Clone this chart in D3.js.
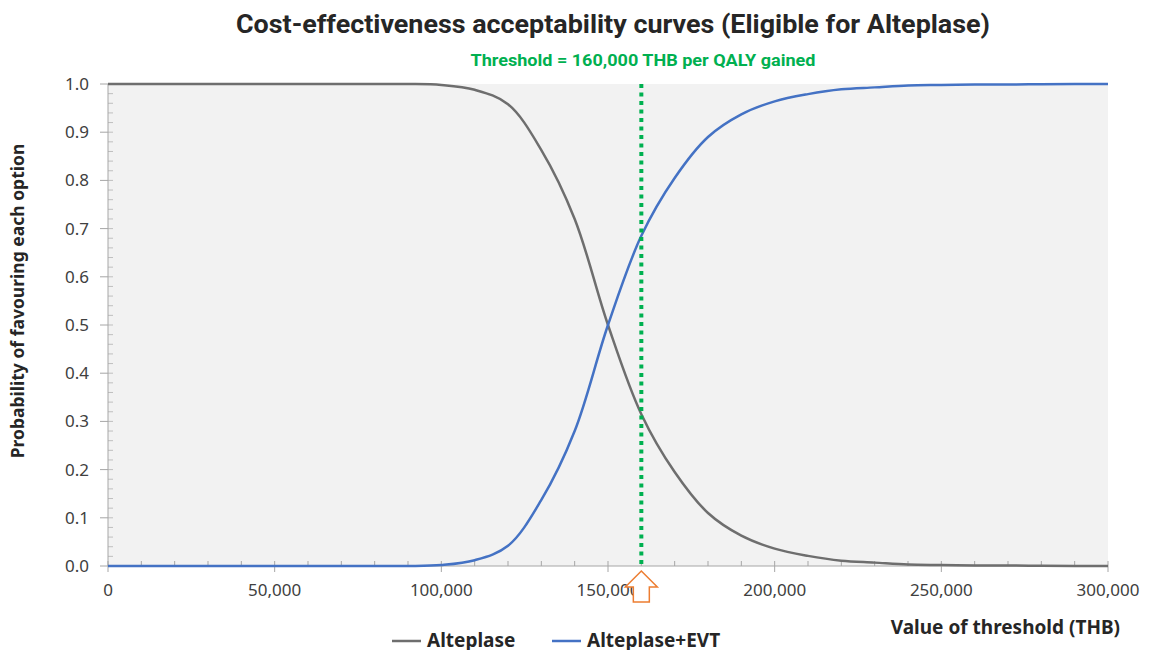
<!DOCTYPE html>
<html>
<head>
<meta charset="utf-8">
<script src="https://cdn.jsdelivr.net/npm/d3@7"></script>
<style>
  body { margin: 0; background: #fff; }
  svg text { font-family: "Noto Sans", "Open Sans", sans-serif; fill: #262626; }
  .title { font-family: "Roboto", sans-serif; font-weight: bold; }
  .tick-label { font-size: 17px; fill: #404040; }
  .axis-title { font-weight: bold; }
</style>
</head>
<body>
<svg width="1149" height="650"></svg>
<script>
// CEAC data (threshold in THB)
var thresholds = [0, 10000, 20000, 30000, 40000, 50000, 60000, 70000, 80000, 90000, 100000,
  110000, 120000, 130000, 140000, 150000, 160000, 170000, 180000, 190000, 200000,
  210000, 220000, 230000, 240000, 250000, 260000, 270000, 280000, 290000, 300000];
var alteplase = [1, 1, 1, 1, 1, 1, 1, 1, 1, 1, 0.998,
  0.988, 0.958, 0.863, 0.72, 0.5, 0.315, 0.195, 0.11, 0.063, 0.036,
  0.021, 0.011, 0.007, 0.003, 0.002, 0.001, 0.001, 0.0005, 0, 0];
var alteplaseEvt = [0, 0, 0, 0, 0, 0, 0, 0, 0, 0, 0.002,
  0.012, 0.042, 0.137, 0.28, 0.5, 0.685, 0.805, 0.89, 0.937, 0.964,
  0.979, 0.989, 0.993, 0.997, 0.998, 0.999, 0.999, 0.9995, 1, 1];
var seriesNames = ['Alteplase', 'Alteplase+EVT'];
var seriesColors = ['#6e6e6e', '#4472c4'];
var xTicks = [0, 50000, 100000, 150000, 200000, 250000, 300000];
var yTicks = [0, 0.1, 0.2, 0.3, 0.4, 0.5, 0.6, 0.7, 0.8, 0.9, 1.0];
var wtpThreshold = 160000;

var svg = d3.select('svg');
var plot = {l: 108, r: 1108, t: 84, b: 566};

var x = d3.scaleLinear().domain([0, 300000]).range([plot.l, plot.r]);
var y = d3.scaleLinear().domain([0, 1]).range([plot.b, plot.t]);

// plot area
svg.append('rect')
  .attr('x', plot.l).attr('y', plot.t)
  .attr('width', plot.r - plot.l).attr('height', plot.b - plot.t)
  .attr('fill', '#f2f2f2');

// y axis: major ticks outward, minor ticks inward
svg.append('g').selectAll('line')
  .data(d3.range(0, 1.0001, 0.02))
  .enter().append('line')
  .attr('x1', plot.l).attr('x2', plot.l + 5)
  .attr('y1', function(d) { return y(d); })
  .attr('y2', function(d) { return y(d); })
  .attr('stroke', '#bfbfbf');
svg.append('g').selectAll('line')
  .data(yTicks)
  .enter().append('line')
  .attr('x1', plot.l - 8).attr('x2', plot.l)
  .attr('y1', function(d) { return y(d); })
  .attr('y2', function(d) { return y(d); })
  .attr('stroke', '#a6a6a6');
svg.append('g').selectAll('text')
  .data(yTicks)
  .enter().append('text')
  .attr('class', 'tick-label')
  .attr('x', 89)
  .attr('y', function(d) { return y(d) + 6; })
  .attr('text-anchor', 'end')
  .text(d3.format('.1f'));

// x axis: minor ticks inside every 10,000, major ticks across
svg.append('g').selectAll('line')
  .data(d3.range(0, 300001, 10000))
  .enter().append('line')
  .attr('x1', function(d) { return x(d); })
  .attr('x2', function(d) { return x(d); })
  .attr('y1', plot.b - 5)
  .attr('y2', function(d) { return d % 50000 === 0 ? plot.b + 6 : plot.b; })
  .attr('stroke', '#a6a6a6');
svg.append('g').selectAll('text')
  .data(xTicks)
  .enter().append('text')
  .attr('class', 'tick-label')
  .attr('x', function(d) { return x(d); })
  .attr('y', 596)
  .attr('text-anchor', 'middle')
  .text(d3.format(','));

svg.append('line')
  .attr('x1', plot.l).attr('x2', plot.l)
  .attr('y1', plot.t).attr('y2', plot.b)
  .attr('stroke', '#a6a6a6');
svg.append('line')
  .attr('x1', plot.l).attr('x2', plot.r)
  .attr('y1', plot.b).attr('y2', plot.b)
  .attr('stroke', '#a6a6a6');

// curves
var line = d3.line()
  .x(function(d) { return x(d[0]); })
  .y(function(d) { return y(d[1]); })
  .curve(d3.curveCatmullRom.alpha(0.5));

[alteplase, alteplaseEvt].forEach(function(vals, i) {
  svg.append('path')
    .datum(d3.zip(thresholds, vals))
    .attr('d', line)
    .attr('fill', 'none')
    .attr('stroke', seriesColors[i])
    .attr('stroke-width', 2.5);
});

// threshold line
svg.append('line')
  .attr('x1', x(wtpThreshold)).attr('x2', x(wtpThreshold))
  .attr('y1', plot.t).attr('y2', plot.b)
  .attr('stroke', '#00b050')
  .attr('stroke-width', 4)
  .attr('stroke-dasharray', '4,4.5');

// orange arrow pointing to the threshold
var ax = x(wtpThreshold);
svg.append('path')
  .attr('d', 'M' + ax + ',571 L' + (ax + 16) + ',587 L' + (ax + 8) + ',587 L' + (ax + 8) + ',602 L' +
    (ax - 8) + ',602 L' + (ax - 8) + ',587 L' + (ax - 16) + ',587 Z')
  .attr('fill', '#fff')
  .attr('stroke', '#ed7d31')
  .attr('stroke-width', 1.5);

// titles
svg.append('text')
  .attr('class', 'title')
  .attr('x', 613).attr('y', 33)
  .attr('text-anchor', 'middle')
  .attr('textLength', 754)
  .attr('lengthAdjust', 'spacingAndGlyphs')
  .style('font-size', '25px')
  .text('Cost-effectiveness acceptability curves (Eligible for Alteplase)');

svg.append('text')
  .attr('class', 'title')
  .attr('x', 643).attr('y', 66)
  .attr('text-anchor', 'middle')
  .attr('textLength', 345)
  .attr('lengthAdjust', 'spacingAndGlyphs')
  .style('font-size', '16px')
  .style('fill', '#00b050')
  .text('Threshold = 160,000 THB per QALY gained');

svg.append('text')
  .attr('class', 'axis-title')
  .attr('transform', 'translate(24,' + 301 + ') rotate(-90)')
  .attr('text-anchor', 'middle')
  .style('font-size', '17.5px')
  .text('Probability of favouring each option');

svg.append('text')
  .attr('class', 'axis-title')
  .attr('x', 1120).attr('y', 634)
  .attr('text-anchor', 'end')
  .style('font-size', '19px')
  .text('Value of threshold (THB)');

// legend
var legendX = [392, 552];
seriesNames.forEach(function(name, i) {
  var g = svg.append('g').attr('transform', 'translate(' + legendX[i] + ',641)');
  g.append('line')
    .attr('x1', 0).attr('x2', 29)
    .attr('stroke', seriesColors[i])
    .attr('stroke-width', 2.5);
  g.append('text')
    .attr('x', 35).attr('y', 6)
    .style('font-size', '19px')
    .style('font-weight', 'bold')
    .text(name);
});
</script>
</body>
</html>
